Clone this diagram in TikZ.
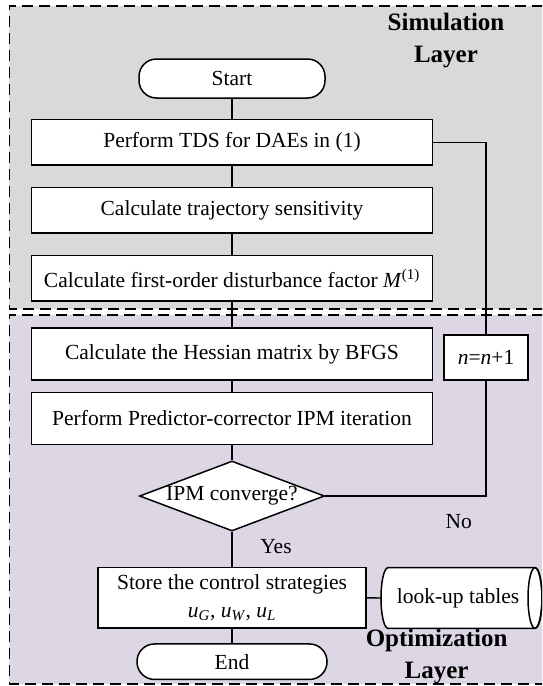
\documentclass[tikz,border=0pt]{standalone}
\usepackage{fontspec}
\setmainfont{Liberation Serif}
\usetikzlibrary{shapes.geometric}
\definecolor{simgray}{RGB}{217,217,217}
\definecolor{optlav}{RGB}{220,214,229}
\newcommand\bodyfont{\fontsize{21.5}{28.3}\selectfont}
\newcommand\titlefont{\fontsize{25}{32}\selectfont\bfseries}
\begin{document}
\begin{tikzpicture}[x=1pt,y=1pt,
  layerline/.style={line width=1.3pt, dash pattern=on 11pt off 6pt},
  box/.style={draw, line width=1.5pt, fill=white, rectangle, inner sep=0pt,
    minimum width=400.7pt, minimum height=45.3pt, font=\bodyfont},
  term/.style={draw, line width=1.5pt, fill=white, rectangle, inner sep=0pt,
    rounded corners=17.5pt, font=\bodyfont},
  dec/.style={draw, line width=1.5pt, fill=white, diamond, aspect=2.64,
    inner sep=0pt, minimum width=185pt, minimum height=70pt, font=\bodyfont},
  lbl/.style={font=\bodyfont, inner sep=0pt},
  ttl/.style={font=\titlefont, align=center, inner sep=0pt},
  conn/.style={line width=1.4pt}]
\useasboundingbox (0,0) rectangle (542,-686);
\clip (0,0) rectangle (542,-686);
% layers
\fill[simgray] (9.3,-6) rectangle (560,-309);
\draw[layerline] (560,-6) -- (9.3,-6) -- (9.3,-309) -- (560,-309);
\fill[optlav] (9.3,-315) rectangle (560,-684);
\draw[layerline] (560,-315) -- (9.3,-315) -- (9.3,-684) -- (560,-684);
\node[ttl] (simt) at (446,-41) {Simulation\\Layer};
% nodes
\node[term, minimum width=186pt, minimum height=39pt] (start) at (232,-78.5) {Start};
\node[box] (tds) at (232,-142.2) {Perform TDS for DAEs in (1)};
\node[box] (traj) at (232,-210.3) {Calculate trajectory sensitivity};
\node[box] (mfac) at (232,-278.3) {Calculate first-order disturbance factor \textit{M}\textsuperscript{(1)}};
\node[box, minimum height=52pt] (hess) at (232,-354) {Calculate the Hessian matrix by BFGS};
\node[box, minimum height=52pt] (pred) at (232,-418.5) {Perform Predictor-corrector IPM iteration};
\node[dec] (conv) at (232,-496) {IPM converge?};
\node[box, minimum width=268pt, minimum height=60.3pt, align=center] (store) at (232,-597.8)
  {Store the control strategies\\\textit{u}\textsubscript{\textit{G}}, \textit{u}\textsubscript{\textit{W}}, \textit{u}\textsubscript{\textit{L}}};
\node[term, minimum width=190pt, minimum height=35.5pt] (end) at (232,-661.7) {End};
\node[box, minimum width=84pt, minimum height=45pt] (inc) at (486,-357.5) {\textit{n}=\textit{n}+1};
% cylinder
\draw[line width=1.5pt, fill=white] (388,-567.7) -- (535,-567.7)
  arc[start angle=90, end angle=-90, x radius=7, y radius=30.3]
  -- (388,-628.3)
  arc[start angle=270, end angle=90, x radius=7, y radius=30.3] -- cycle;
\draw[line width=1.5pt] (535,-598) ellipse [x radius=7, y radius=30.3];
\node[inner sep=0pt, minimum width=154pt, minimum height=60.6pt, font=\bodyfont] (lut) at (458,-598) {look-up tables};
% connectors
\draw[conn] (start) -- (tds);
\draw[conn] (tds) -- (traj);
\draw[conn] (traj) -- (mfac);
\draw[conn] (mfac) -- (hess);
\draw[conn] (hess) -- (pred);
\draw[conn] (pred) -- (conv);
\draw[conn] (conv) -- (store);
\draw[conn] (store) -- (end);
\draw[conn] (store.east) -- (lut.west);
\draw[conn] (tds.east) -| (inc.north);
\draw[conn] (inc.south) |- (conv.east);
% labels
\node[lbl] (yes) at (276,-546.7) {Yes};
\node[lbl] (no) at (458.7,-521.7) {No};
\node[ttl] (optt) at (436.6,-656.7) {Optimization\\Layer};
\end{tikzpicture}
\end{document}
